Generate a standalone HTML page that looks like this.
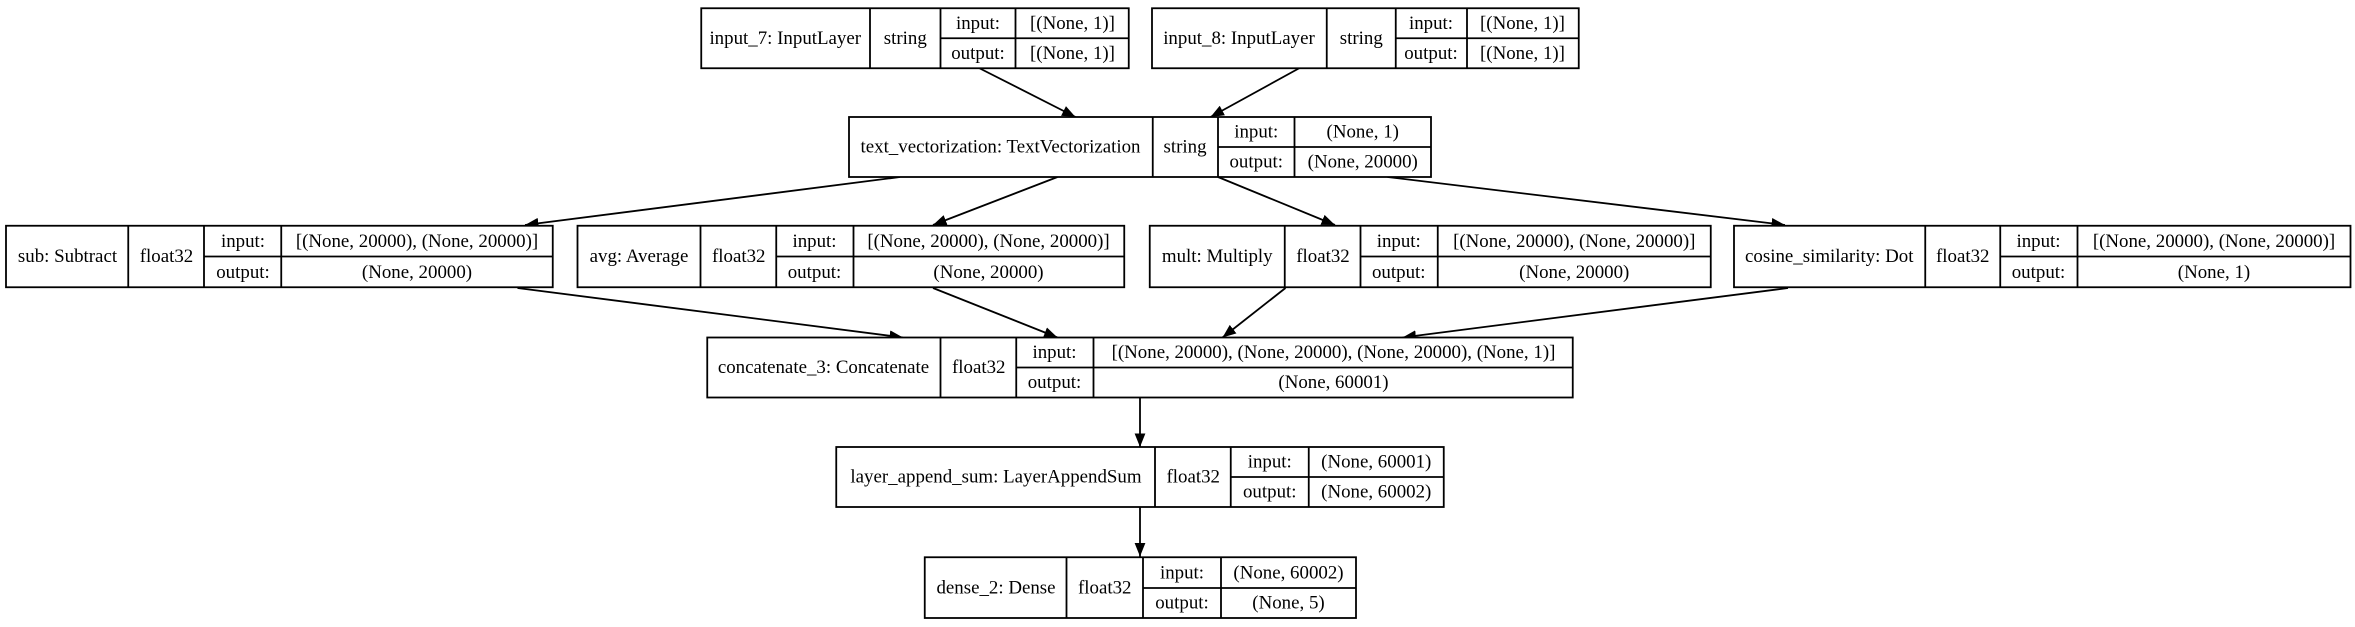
<!DOCTYPE html>
<html><head><meta charset="utf-8"><style>
html,body{margin:0;padding:0;background:#fff;}
svg{display:block;}
text{font-family:"Liberation Serif",serif;font-size:12.6px;fill:#000;text-anchor:middle;dominant-baseline:central;}
.b{fill:#fff;stroke:#000;stroke-width:1.2;}
.l{stroke:#000;stroke-width:1.2;fill:none;}
</style></head><body>
<svg width="2355" height="627" viewBox="0 0 1570 418" xmlns="http://www.w3.org/2000/svg">
<defs><marker id="a" viewBox="0 0 10 10" refX="10" refY="5" markerWidth="9" markerHeight="9" markerUnits="userSpaceOnUse" orient="auto"><path d="M0,1 L10,5 L0,9 z" fill="#000"/></marker></defs>
<g id="edges">
<line class="l" x1="652" y1="45" x2="717" y2="78" marker-end="url(#a)"/>
<line class="l" x1="867" y1="45" x2="807" y2="78" marker-end="url(#a)"/>
<line class="l" x1="600" y1="118" x2="350" y2="150" marker-end="url(#a)"/>
<line class="l" x1="705" y1="118" x2="622" y2="150" marker-end="url(#a)"/>
<line class="l" x1="812" y1="118" x2="890" y2="150" marker-end="url(#a)"/>
<line class="l" x1="925" y1="118" x2="1190" y2="150" marker-end="url(#a)"/>
<line class="l" x1="345" y1="192" x2="602" y2="225" marker-end="url(#a)"/>
<line class="l" x1="622" y1="192" x2="705" y2="225" marker-end="url(#a)"/>
<line class="l" x1="857" y1="192" x2="815" y2="225" marker-end="url(#a)"/>
<line class="l" x1="1192" y1="192" x2="935" y2="225" marker-end="url(#a)"/>
<line class="l" x1="760" y1="265" x2="760" y2="298" marker-end="url(#a)"/>
<line class="l" x1="760" y1="338" x2="760" y2="371" marker-end="url(#a)"/>
</g>
<rect class="b" x="467.5" y="5.5" width="285" height="40"/>
<path class="l" d="M580,5.5V45.5M627,5.5V45.5M677,5.5V45.5M627,25.5H752.5"/>
<text x="523.5" y="25.5">input_7: InputLayer</text><text x="603.5" y="25.5">string</text>
<text x="652" y="15.5">input:</text><text x="715" y="15.5">[(None, 1)]</text>
<text x="652" y="35.5">output:</text><text x="715" y="35.5">[(None, 1)]</text>
<rect class="b" x="768" y="5.5" width="284.5" height="40"/>
<path class="l" d="M884.5,5.5V45.5M930.5,5.5V45.5M978,5.5V45.5M930.5,25.5H1052.5"/>
<text x="826" y="25.5">input_8: InputLayer</text><text x="907.5" y="25.5">string</text>
<text x="954" y="15.5">input:</text><text x="1015" y="15.5">[(None, 1)]</text>
<text x="954" y="35.5">output:</text><text x="1015" y="35.5">[(None, 1)]</text>
<rect class="b" x="566" y="78" width="388" height="40"/>
<path class="l" d="M768.5,78V118M812,78V118M863,78V118M812,98H954"/>
<text x="667" y="98">text_vectorization: TextVectorization</text><text x="790" y="98">string</text>
<text x="837.5" y="88">input:</text><text x="908.5" y="88">(None, 1)</text>
<text x="837.5" y="108">output:</text><text x="908.5" y="108">(None, 20000)</text>
<rect class="b" x="4" y="150.5" width="364.5" height="41"/>
<path class="l" d="M85.5,150.5V191.5M136,150.5V191.5M187.5,150.5V191.5M136,171H368.5"/>
<text x="45" y="171">sub: Subtract</text><text x="111" y="171">float32</text>
<text x="162" y="161">input:</text><text x="278" y="161">[(None, 20000), (None, 20000)]</text>
<text x="162" y="181.5">output:</text><text x="278" y="181.5">(None, 20000)</text>
<rect class="b" x="385" y="150.5" width="364.5" height="41"/>
<path class="l" d="M467,150.5V191.5M517.5,150.5V191.5M569,150.5V191.5M517.5,171H749.5"/>
<text x="426" y="171">avg: Average</text><text x="492.5" y="171">float32</text>
<text x="543" y="161">input:</text><text x="659" y="161">[(None, 20000), (None, 20000)]</text>
<text x="543" y="181.5">output:</text><text x="659" y="181.5">(None, 20000)</text>
<rect class="b" x="766.5" y="150.5" width="374" height="41"/>
<path class="l" d="M856.5,150.5V191.5M907,150.5V191.5M958.5,150.5V191.5M907,171H1140.5"/>
<text x="811.5" y="171">mult: Multiply</text><text x="882" y="171">float32</text>
<text x="932.5" y="161">input:</text><text x="1049.5" y="161">[(None, 20000), (None, 20000)]</text>
<text x="932.5" y="181.5">output:</text><text x="1049.5" y="181.5">(None, 20000)</text>
<rect class="b" x="1156" y="150.5" width="411" height="41"/>
<path class="l" d="M1283.5,150.5V191.5M1333.5,150.5V191.5M1385,150.5V191.5M1333.5,171H1567"/>
<text x="1219.5" y="171">cosine_similarity: Dot</text><text x="1308.5" y="171">float32</text>
<text x="1359" y="161">input:</text><text x="1476" y="161">[(None, 20000), (None, 20000)]</text>
<text x="1359" y="181.5">output:</text><text x="1476" y="181.5">(None, 1)</text>
<rect class="b" x="471.5" y="225" width="577" height="40"/>
<path class="l" d="M627,225V265M677.5,225V265M729,225V265M677.5,245H1048.5"/>
<text x="549" y="245">concatenate_3: Concatenate</text><text x="652.5" y="245">float32</text>
<text x="703" y="235">input:</text><text x="889" y="235">[(None, 20000), (None, 20000), (None, 20000), (None, 1)]</text>
<text x="703" y="255">output:</text><text x="889" y="255">(None, 60001)</text>
<rect class="b" x="557.5" y="298" width="405" height="40"/>
<path class="l" d="M770,298V338M820.5,298V338M872.5,298V338M820.5,318H962.5"/>
<text x="664" y="318">layer_append_sum: LayerAppendSum</text><text x="795.5" y="318">float32</text>
<text x="846.5" y="308">input:</text><text x="917.5" y="308">(None, 60001)</text>
<text x="846.5" y="328">output:</text><text x="917.5" y="328">(None, 60002)</text>
<rect class="b" x="616.5" y="371.5" width="287.5" height="40.5"/>
<path class="l" d="M711,371.5V412M762,371.5V412M814,371.5V412M762,392H904"/>
<text x="664" y="392">dense_2: Dense</text><text x="736.5" y="392">float32</text>
<text x="788" y="382">input:</text><text x="859" y="382">(None, 60002)</text>
<text x="788" y="402">output:</text><text x="859" y="402">(None, 5)</text>
</svg>
</body></html>
